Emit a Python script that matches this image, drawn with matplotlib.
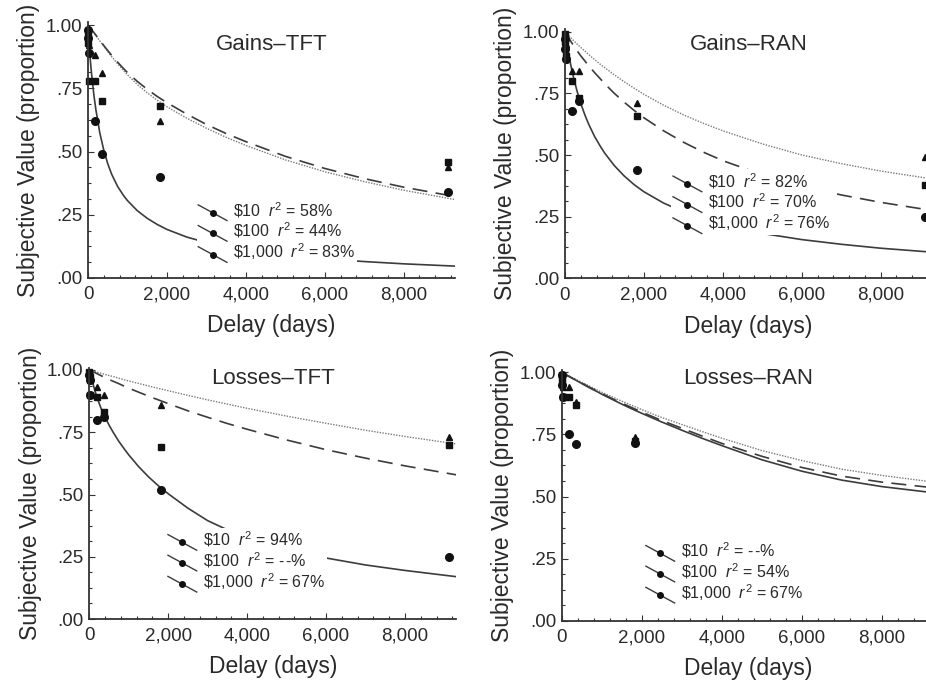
import matplotlib
matplotlib.use("Agg")
import matplotlib.pyplot as plt
from matplotlib.lines import Line2D
from matplotlib.ticker import MultipleLocator, FuncFormatter

plt.rcParams['font.family'] = ['Liberation Sans', 'DejaVu Sans']
plt.rcParams['mathtext.fontset'] = 'custom'
plt.rcParams['mathtext.rm'] = 'Liberation Sans'
plt.rcParams['mathtext.it'] = 'Liberation Sans:italic'

# delays of the observed points (days)
delays = [1, 7, 30, 183, 365, 1825, 9125]

# observed subjective values: circles $10, squares $100, triangles $1,000
gt_10 = [0.98, 0.95, 0.89, 0.62, 0.49, 0.40, 0.34]
gt_100 = [0.97, 0.93, 0.78, 0.78, 0.70, 0.68, 0.46]
gt_1000 = [0.99, 0.96, 0.92, 0.88, 0.81, 0.62, 0.44]

gr_10 = [0.97, 0.93, 0.89, 0.68, 0.72, 0.44, 0.25]
gr_100 = [0.99, 0.96, 0.90, 0.80, 0.73, 0.66, 0.38]
gr_1000 = [0.99, 0.98, 0.95, 0.84, 0.84, 0.71, 0.49]

lt_10 = [0.98, 0.96, 0.90, 0.80, 0.81, 0.52, 0.25]
lt_100 = [0.99, 0.97, 0.90, 0.89, 0.83, 0.69, 0.70]
lt_1000 = [0.99, 0.98, 0.96, 0.93, 0.90, 0.86, 0.73]

# losses-RAN: the 25 year points fall outside the cropped picture
lr_10 = [0.99, 0.95, 0.90, 0.75, 0.71, 0.715]
lr_100 = [0.99, 0.97, 0.90, 0.90, 0.87, 0.725]
lr_1000 = [0.99, 0.98, 0.94, 0.94, 0.88, 0.74]

# fitted curves
curve_days = [0, 10, 25, 50, 75, 100, 150, 200, 300, 400, 500, 600, 750, 900, 1000,
              1250, 1500, 1750, 2000, 2500, 3000, 3500, 4000, 5000, 6000, 7000, 8000, 9300]

gt_fit_10 = [1.0, 0.97, 0.93, 0.878, 0.832, 0.792, 0.722, 0.665, 0.573, 0.505, 0.452, 0.41,
             0.362, 0.326, 0.306, 0.266, 0.236, 0.212, 0.192, 0.162, 0.14, 0.123, 0.11,
             0.09, 0.076, 0.065, 0.056, 0.047]
gt_fit_100 = [1.0, 0.998, 0.995, 0.99, 0.985, 0.98, 0.97, 0.96, 0.94, 0.919, 0.899, 0.88,
              0.853, 0.828, 0.812, 0.777, 0.746, 0.718, 0.693, 0.648, 0.607, 0.571, 0.539,
              0.481, 0.433, 0.393, 0.359, 0.322]
gt_fit_1000 = [1.0, 0.998, 0.995, 0.99, 0.985, 0.979, 0.969, 0.958, 0.937, 0.916, 0.895, 0.875,
               0.847, 0.82, 0.803, 0.765, 0.732, 0.703, 0.677, 0.632, 0.592, 0.556, 0.524,
               0.467, 0.42, 0.381, 0.347, 0.31]

gr_fit_10 = [1.0, 0.989, 0.973, 0.949, 0.925, 0.903, 0.862, 0.825, 0.762, 0.709, 0.664, 0.625,
             0.575, 0.534, 0.509, 0.457, 0.415, 0.38, 0.351, 0.305, 0.27, 0.242, 0.219,
             0.182, 0.157, 0.138, 0.122, 0.106]
gr_fit_100 = [1.0, 0.997, 0.993, 0.986, 0.979, 0.973, 0.96, 0.948, 0.924, 0.902, 0.882, 0.862,
              0.834, 0.808, 0.79, 0.75, 0.714, 0.681, 0.651, 0.598, 0.552, 0.512, 0.477,
              0.42, 0.375, 0.338, 0.308, 0.275]
gr_fit_1000 = [1.0, 0.998, 0.996, 0.992, 0.988, 0.983, 0.975, 0.967, 0.951, 0.936, 0.922, 0.907,
               0.887, 0.867, 0.855, 0.825, 0.797, 0.771, 0.746, 0.702, 0.663, 0.629, 0.598,
               0.545, 0.50, 0.465, 0.435, 0.403]

lt_fit_10 = [1.0, 0.994, 0.985, 0.97, 0.955, 0.941, 0.913, 0.888, 0.845, 0.81, 0.779, 0.751,
             0.713, 0.68, 0.659, 0.612, 0.571, 0.535, 0.503, 0.445, 0.395, 0.358, 0.328,
             0.281, 0.245, 0.217, 0.195, 0.17]
lt_fit_100 = [1.0, 0.999, 0.998, 0.996, 0.994, 0.992, 0.989, 0.985, 0.977, 0.97, 0.962, 0.955,
              0.945, 0.934, 0.927, 0.911, 0.895, 0.88, 0.865, 0.836, 0.81, 0.785, 0.762,
              0.719, 0.68, 0.646, 0.615, 0.579]
lt_fit_1000 = [1.0, 1.0, 0.999, 0.998, 0.997, 0.995, 0.993, 0.991, 0.987, 0.982, 0.978, 0.974,
               0.967, 0.96, 0.956, 0.946, 0.936, 0.926, 0.917, 0.898, 0.88, 0.863, 0.846,
               0.815, 0.786, 0.758, 0.733, 0.703]

lr_fit_10 = [1.0, 0.999, 0.998, 0.996, 0.993, 0.991, 0.986, 0.982, 0.973, 0.964, 0.955, 0.946,
             0.933, 0.921, 0.912, 0.892, 0.872, 0.853, 0.835, 0.80, 0.767, 0.735, 0.705,
             0.648, 0.602, 0.566, 0.54, 0.515]
lr_fit_100 = [1.0, 0.999, 0.998, 0.996, 0.993, 0.991, 0.986, 0.982, 0.973, 0.965, 0.956, 0.948,
              0.935, 0.923, 0.915, 0.895, 0.876, 0.858, 0.84, 0.806, 0.775, 0.744, 0.714,
              0.662, 0.617, 0.582, 0.558, 0.535]
lr_fit_1000 = [1.0, 0.999, 0.998, 0.996, 0.994, 0.992, 0.988, 0.984, 0.976, 0.968, 0.96, 0.952,
               0.94, 0.928, 0.92, 0.902, 0.884, 0.867, 0.85, 0.818, 0.79, 0.762, 0.735,
               0.685, 0.645, 0.61, 0.585, 0.558]

titles = ['Gains\u2013TFT', 'Gains\u2013RAN', 'Losses\u2013TFT', 'Losses\u2013RAN']
amounts = ['\\$10', '\\$100', '\\$1,000']
r2_gt = ['58', '44', '83']
r2_gr = ['82', '70', '76']
r2_lt = ['94', '-\u200a-', '67']
r2_lr = ['-\u200a-', '54', '67']

LINE = '#3c3c3c'
DOT = '#7a7a7a'
MARK = '#111111'
TXT = '#2a2a2a'
W, H = 926, 683


class SlantHandler:
    # legend key: a short slanted stroke with a dot in the middle
    def legend_artist(self, legend, orig_handle, fontsize, handlebox):
        x0, y0 = handlebox.xdescent, handlebox.ydescent
        w, h = handlebox.width, handlebox.height
        tr = handlebox.get_transform()
        line = Line2D([x0, x0 + w], [y0 + h * 1.0, y0 - h * 0.4], color=LINE, lw=1.0,
                      transform=tr)
        dot = Line2D([x0 + w * 0.5], [y0 + h * 0.3], marker='o', ms=4, color=MARK,
                     transform=tr)
        handlebox.add_artist(line)
        handlebox.add_artist(dot)
        return line


fig = plt.figure(figsize=(W / 100, H / 100), dpi=100)


def make_axes(left, zero_y, one_y, px_per_day, xmax=9300, ymax=1.01):
    unit = zero_y - one_y
    return fig.add_axes([left / W, 1 - zero_y / H, xmax * px_per_day / W, ymax * unit / H])


panels = [
    (make_axes(88, 278, 25, 0.03946), gt_10, gt_100, gt_1000,
     gt_fit_10, gt_fit_100, gt_fit_1000, r2_gt, 0.915, (0.296, 0.312)),
    (make_axes(565, 278.3, 31.7, 0.03946), gr_10, gr_100, gr_1000,
     gr_fit_10, gr_fit_100, gr_fit_1000, r2_gr, 0.94, (0.29, 0.437)),
    (make_axes(89.3, 619, 370, 0.03946), lt_10, lt_100, lt_1000,
     lt_fit_10, lt_fit_100, lt_fit_1000, r2_lt, 0.955, (0.21, 0.362)),
    (make_axes(561.7, 620.7, 372.3, 0.040), lr_10, lr_100, lr_1000,
     lr_fit_10, lr_fit_100, lr_fit_1000, r2_lr, 0.965, (0.222, 0.326)),
]

for i, (ax, p10, p100, p1000, f10, f100, f1000, r2, ty, leg_xy) in enumerate(panels):
    ax.plot(curve_days, f1000, color=DOT, lw=1.0, ls=(0, (1, 1)))
    ax.plot(curve_days, f100, color=LINE, lw=1.2, ls=(0, (9, 5)))
    ax.plot(curve_days, f10, color=LINE, lw=1.2)
    d = delays[:len(p10)]
    ax.plot(d, p1000, ls='none', marker='^', ms=5, color=MARK, clip_on=False)
    ax.plot(d, p100, ls='none', marker='s', ms=5, color=MARK, clip_on=False)
    ax.plot(d, p10, ls='none', marker='o', ms=5.5, color=MARK, clip_on=False)

    ax.set_xlim(0, 9300)
    ax.set_ylim(0, 1.01)
    ax.xaxis.set_major_locator(MultipleLocator(2000))
    ax.xaxis.set_minor_locator(MultipleLocator(400))
    ax.yaxis.set_major_locator(MultipleLocator(0.25))
    ax.yaxis.set_minor_locator(MultipleLocator(0.0625))
    ax.xaxis.set_major_formatter(FuncFormatter(lambda v, p: f'{v:,.0f}'))
    ax.yaxis.set_major_formatter(FuncFormatter(lambda v, p: f'{v:.2f}'.lstrip('0') if v < 1 else f'{v:.2f}'))
    ax.tick_params(which='both', direction='in', colors='#333333', labelcolor=TXT,
                   labelsize=13.5, width=0.8)
    ax.tick_params(which='major', length=4)
    ax.tick_params(which='minor', length=2.5)
    ax.tick_params(axis='x', pad=6)
    ax.tick_params(axis='y', pad=4)
    for s in ['top', 'right']:
        ax.spines[s].set_visible(False)
    for s in ['left', 'bottom']:
        ax.spines[s].set_color('#333333')
        ax.spines[s].set_linewidth(1.3)
    ax.set_xlabel('Delay (days)', fontsize=16.5, color=TXT, labelpad=8)
    ax.set_ylabel('Subjective Value (proportion)', fontsize=16.5, color=TXT, labelpad=4)
    ax.text(0.5, ty, titles[i], transform=ax.transAxes, ha='center', va='center',
            fontsize=16, color=TXT)

    handles = [Line2D([], []) for _ in range(3)]
    labels = [f'{a}  $r^2$ = {r}%' for a, r in zip(amounts, r2)]
    leg = ax.legend(handles, labels, loc='upper left', bbox_to_anchor=leg_xy,
                    handler_map={Line2D: SlantHandler()}, frameon=True, fancybox=False,
                    facecolor='white', edgecolor='none', framealpha=1, fontsize=11.5,
                    borderpad=0.1, borderaxespad=0, handlelength=1.8, handletextpad=0.4,
                    labelspacing=0.06)
    for t in leg.get_texts():
        t.set_color(TXT)

fig.savefig('out.png', dpi=100)
